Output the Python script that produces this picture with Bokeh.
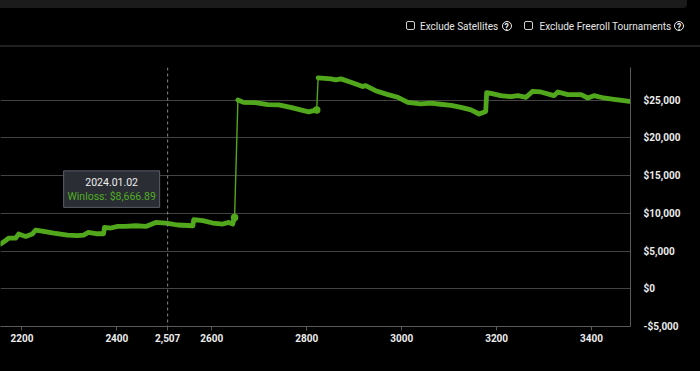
from bokeh.plotting import figure
from bokeh.layouts import column
from bokeh.models import Range1d, FixedTicker, NumeralTickFormatter, Span, Div
from bokeh.core.properties import value
from bokeh.embed import file_html
from bokeh.resources import INLINE

# ---------------- data ----------------
tournaments = [2155, 2165, 2172, 2187, 2193, 2208, 2222, 2229, 2246, 2267, 2296, 2317,
               2330, 2340, 2359, 2372, 2374, 2387, 2402, 2418, 2440, 2461, 2482, 2503,
               2507, 2528, 2560, 2562, 2581, 2602, 2623, 2636, 2644, 2648,
               2655, 2667, 2692, 2718, 2741, 2766, 2787, 2804, 2821,
               2824, 2851, 2861, 2872, 2893, 2918, 2924, 2945, 2971, 2992, 3013,
               3040, 3061, 3082, 3104, 3125, 3146, 3163, 3177,
               3179, 3188, 3209, 3230, 3245, 3262, 3276, 3293, 3321, 3329, 3350,
               3378, 3392, 3405, 3426, 3447, 3468, 3479]
winloss = [5930, 6360, 6720, 6720, 7250, 6930, 7250, 7780, 7600, 7380, 7120, 7030,
           7120, 7470, 7290, 7290, 8130, 8050, 8260, 8260, 8350, 8260, 8790, 8710,
           8666.89, 8450, 8350, 9150, 9020, 8710, 8580, 8790, 8580, 9460,
           25020, 24700, 24660, 24400, 24360, 24040, 23700, 23430, 23700,
           27940, 27810, 27680, 27810, 27360, 26790, 26920, 26250, 25730, 25370, 24700,
           24500, 24600, 24450, 24300, 24040, 23700, 23160, 23500,
           25990, 25900, 25590, 25460, 25590, 25370, 26170, 26080, 25590, 26080, 25730,
           25730, 25280, 25590, 25280, 25100, 24930, 24840]

x_ticks = [2200, 2400, 2600, 2800, 3000, 3200, 3400]
y_ticks = [-5000, 0, 5000, 10000, 15000, 20000, 25000]

hover_x = 2507
hover_y = 8666.89
hover_date = "2024.01.02"
hover_text = "Winloss: $8,666.89"
hover_tick = "2,507"

options = ["Exclude Satellites", "Exclude Freeroll Tournaments"]

# ---------------- styling ----------------
GREEN = "#52a81c"
BG = "#000000"
FONT = "Roboto"

X0, X1 = 2154.9, 3482.0
Y0, Y1 = -5000.0, 29320.0
FRAME_W, FRAME_H = 630, 259

# thick stroke with gaps at the large jumps, thin line joins everything
xs_thick, ys_thick, ends_x, ends_y = [], [], [], []
for i, (xv, yv) in enumerate(zip(tournaments, winloss)):
    if i > 0 and abs(yv - winloss[i - 1]) > 3000:
        xs_thick.append(float("nan"))
        ys_thick.append(float("nan"))
        ends_x.append(tournaments[i - 1])
        ends_y.append(winloss[i - 1])
    xs_thick.append(xv)
    ys_thick.append(yv)

# ---------------- top strip (options) ----------------
def option_html(label, box_left, text_left, q_left):
    return (
        f'<div style="position:absolute;left:{box_left}px;top:21px;width:9px;height:9px;'
        f'border:1.4px solid #d0d0d0;border-radius:2px;"></div>'
        f'<div style="position:absolute;left:{text_left}px;top:19px;font-family:Roboto;'
        f'font-size:10px;line-height:15px;color:#e6e6e6;white-space:nowrap;">{label}</div>'
        f'<div style="position:absolute;left:{q_left}px;top:20.5px;width:10px;height:10px;'
        f'border:1.6px solid #f2f2f2;border-radius:50%;font-family:Roboto;font-size:8.5px;'
        f'font-weight:bold;line-height:10px;text-align:center;color:#f2f2f2;">?</div>'
    )

top_html = (
    '<div style="position:relative;width:700px;height:67px;background:#000;overflow:hidden;">'
    '<div style="position:absolute;left:0;top:0;width:687px;height:8px;background:#1b1b1b;'
    'border-bottom-right-radius:4px;"></div>'
    '<div style="position:absolute;left:0;top:45px;width:700px;height:1.5px;background:#1f1f1f;"></div>'
    + option_html(options[0], 405.5, 420, 501.5)
    + option_html(options[1], 524, 539.5, 674)
    + '</div>'
)
top = Div(text=top_html, width=700, height=67, margin=0,
          styles={"background-color": BG})

# ---------------- main chart ----------------
p = figure(width=700, height=304, x_range=Range1d(X0, X1), y_range=Range1d(Y0, Y1),
           output_backend="svg", toolbar_location=None, y_axis_location="right",
           min_border_left=0, min_border_right=70, min_border_top=0, min_border_bottom=45,
           background_fill_color=BG, border_fill_color=BG, outline_line_color=None,
           styles={"background-color": BG})

p.xgrid.visible = False
p.ygrid.ticker = FixedTicker(ticks=y_ticks)
p.ygrid.grid_line_color = "#434343"
p.ygrid.grid_line_width = 1.2

p.xaxis.ticker = FixedTicker(ticks=x_ticks + [hover_x])
p.xaxis.major_label_overrides = {hover_x: hover_tick}
p.xaxis.axis_line_color = "#5a5a5a"
p.xaxis.major_tick_line_color = "#5a5a5a"
p.xaxis.major_tick_out = 4
p.xaxis.major_tick_in = 0
p.xaxis.minor_tick_line_color = None
p.xaxis.major_label_standoff = 3
p.xaxis.major_label_text_color = "#ececec"
p.xaxis.major_label_text_font = FONT
p.xaxis.major_label_text_font_size = "10px"
p.xaxis.major_label_text_font_style = "bold"

p.yaxis.ticker = FixedTicker(ticks=y_ticks)
p.yaxis.formatter = NumeralTickFormatter(format="$0,0")
p.yaxis.axis_line_color = "#5a5a5a"
p.yaxis.major_tick_line_color = None
p.yaxis.minor_tick_line_color = None
p.yaxis.major_label_standoff = 7
p.yaxis.major_label_text_color = "#ececec"
p.yaxis.major_label_text_font = FONT
p.yaxis.major_label_text_font_size = "10px"
p.yaxis.major_label_text_font_style = "bold"

# crosshair
p.add_layout(Span(location=hover_x, dimension="height", line_color="#8a8a8a",
                  line_dash="3 3", line_width=1))

# series
p.line(tournaments, winloss, line_color=GREEN, line_width=1.4)
p.line(xs_thick, ys_thick, line_color=GREEN, line_width=4.8, line_join="round",
       line_cap="round")
p.scatter(ends_x, ends_y, size=7.5, marker="circle", fill_color=GREEN, line_color=None)

# tooltip placed relative to the hovered point (pixel offsets through the scale)
dx = (X1 - X0) / FRAME_W
dy = (Y1 - Y0) / FRAME_H
p.quad(left=[hover_x - 104 * dx], right=[hover_x - 8 * dx],
       bottom=[hover_y + 16 * dy], top=[hover_y + 52.5 * dy],
       fill_color="#2a2d34", line_color="#5c6069", line_width=1)
p.text(x=[hover_x], y=[hover_y], text=[hover_date], x_offset=-56, y_offset=-41,
       text_align="center", text_baseline="middle", text_font=value(FONT),
       text_font_size="10.5px", text_color="#eeeeee")
p.text(x=[hover_x], y=[hover_y], text=[hover_text], x_offset=-56, y_offset=-27,
       text_align="center", text_baseline="middle", text_font=value(FONT),
       text_font_size="10.5px", text_color="#4fae22")

layout = column(top, p, spacing=0, styles={"background-color": BG})
html = file_html(layout, INLINE)
html = html.replace("<body>", '<body style="margin:0;background:#000;">', 1)
open("out.html", "w").write(html)
